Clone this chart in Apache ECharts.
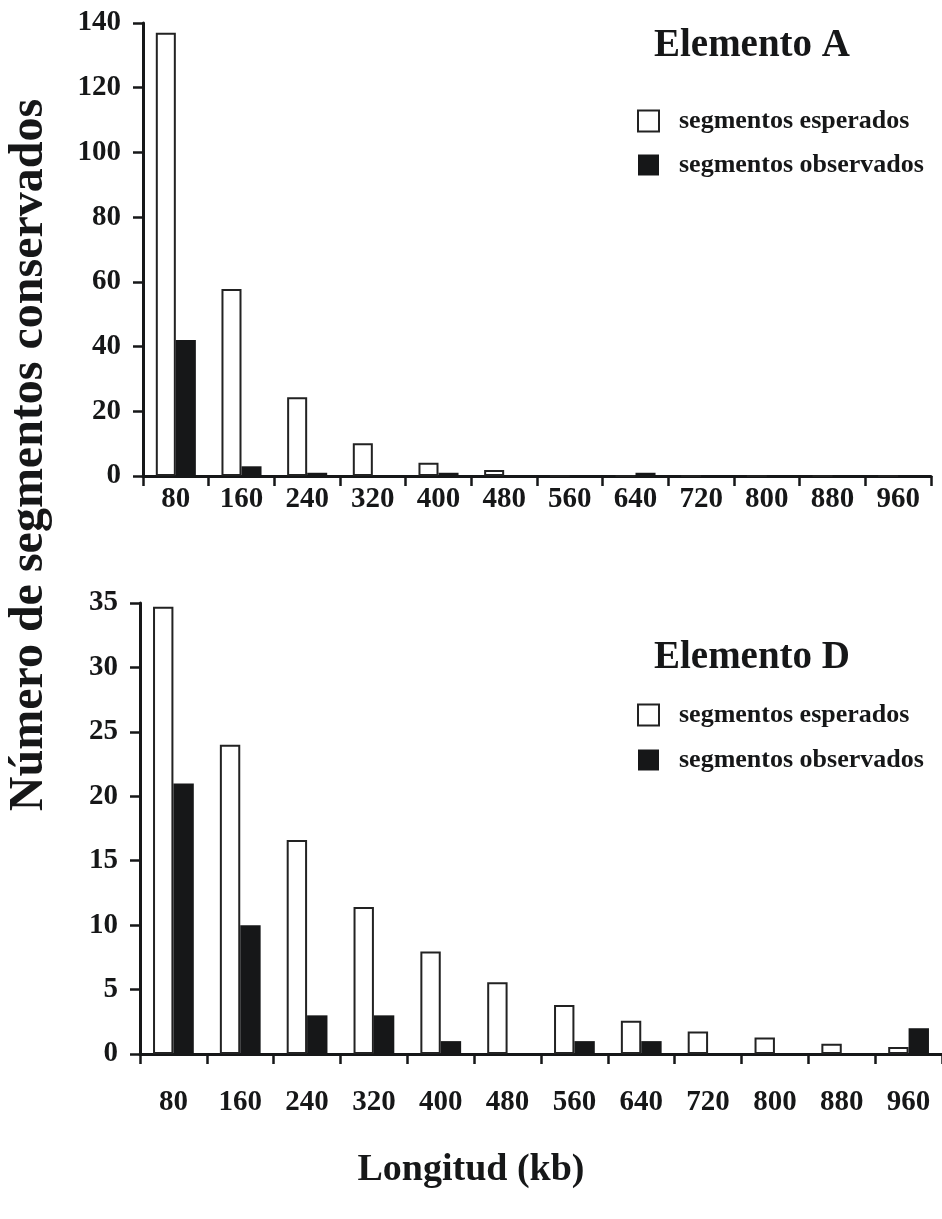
<!DOCTYPE html>
<html><head><meta charset="utf-8">
<script src="https://cdn.jsdelivr.net/npm/echarts@6/dist/echarts.min.js"></script>
<style>html,body{margin:0;padding:0;background:#fff}#c{width:942px;height:1219px}</style>
</head><body><div id="c"></div>
<script>
const categories = ['80','160','240','320','400','480','560','640','720','800','880','960'];
const seriesNames = ['segmentos esperados', 'segmentos observados'];
const expectedA = [137, 57.8, 24.3, 10.1, 4.1, 1.85, 0, 0, 0, 0, 0, 0];
const observedA = [42, 3, 1, 0, 1, 0, 0, 1, 0, 0, 0, 0];
const expectedD = [34.7, 24.0, 16.6, 11.4, 7.95, 5.56, 3.8, 2.58, 1.75, 1.29, 0.8, 0.54];
const observedD = [21, 10, 3, 3, 1, 0, 1, 1, 0, 0, 0, 2];
const panelTitles = ['Elemento A', 'Elemento D'];
const yTitle = 'Número de segmentos conservados';
const xTitle = 'Longitud (kb)';

const FONT = '"Liberation Serif", "Times New Roman", serif';
const INK = '#161718';

function xAx(gi, margin) {
  return {
    type: 'category', gridIndex: gi, data: categories,
    axisLine: { lineStyle: { color: INK, width: 3 } },
    axisTick: { show: true, length: 10, lineStyle: { color: INK, width: 2.5 } },
    axisLabel: { color: INK, fontFamily: FONT, fontWeight: 'bold', fontSize: 29, margin: margin }
  };
}
function yAx(gi, max, interval) {
  return {
    type: 'value', gridIndex: gi, min: 0, max: max, interval: interval,
    axisLine: { show: true, lineStyle: { color: INK, width: 3 } },
    axisTick: { show: true, length: 10, lineStyle: { color: INK, width: 2.5 } },
    splitLine: { show: false },
    axisLabel: { color: INK, fontFamily: FONT, fontWeight: 'bold', fontSize: 29, margin: 22 }
  };
}
function bars(gi, name, data, white) {
  return {
    type: 'bar', name: name, xAxisIndex: gi, yAxisIndex: gi, data: data,
    barCategoryGap: '39%', barGap: '0%',
    itemStyle: white ? { color: '#fff', borderColor: '#222', borderWidth: 2 } : { color: INK, borderColor: INK, borderWidth: 0 },
    emphasis: { disabled: true }
  };
}
function legend(top, gap) {
  return {
    orient: 'vertical', left: 637, top: top, itemWidth: 21, itemHeight: 21, itemGap: gap,
    icon: 'rect', selectedMode: false, padding: 0,
    data: seriesNames,
    textStyle: { color: INK, fontFamily: FONT, fontWeight: 'bold', fontSize: 26, lineHeight: 21, padding: [0, 0, 0, 15] }
  };
}

const chart = echarts.init(document.getElementById('c'), null, { renderer: 'canvas' });
chart.setOption({
  backgroundColor: '#fff',
  animation: false,
  title: [
    { text: panelTitles[0], left: 747, top: 21, textAlign: 'center', textStyle: { color: INK, fontFamily: FONT, fontWeight: 'bold', fontSize: 39 } },
    { text: panelTitles[1], left: 747, top: 633, textAlign: 'center', textStyle: { color: INK, fontFamily: FONT, fontWeight: 'bold', fontSize: 39 } },
    { text: xTitle, left: 466, top: 1146, textAlign: 'center', textStyle: { color: INK, fontFamily: FONT, fontWeight: 'bold', fontSize: 38 } }
  ],
  legend: [legend(108, 18), legend(702, 19)],
  grid: [
    { left: 143, top: 23, width: 788, height: 453 },
    { left: 140, top: 603, width: 802, height: 451 }
  ],
  xAxis: [xAx(0, 9), xAx(1, 34)],
  yAxis: [yAx(0, 140, 20), yAx(1, 35, 5)],
  series: [
    bars(0, seriesNames[0], expectedA, true),
    bars(0, seriesNames[1], observedA, false),
    bars(1, seriesNames[0], expectedD, true),
    bars(1, seriesNames[1], observedD, false)
  ],
  graphic: [
    { type: 'text', x: 30, y: 455, rotation: Math.PI / 2,
      style: { text: yTitle, fill: INK, font: 'bold 48px ' + FONT, textAlign: 'center', textVerticalAlign: 'middle' } }
  ]
});
</script>
</body></html>
